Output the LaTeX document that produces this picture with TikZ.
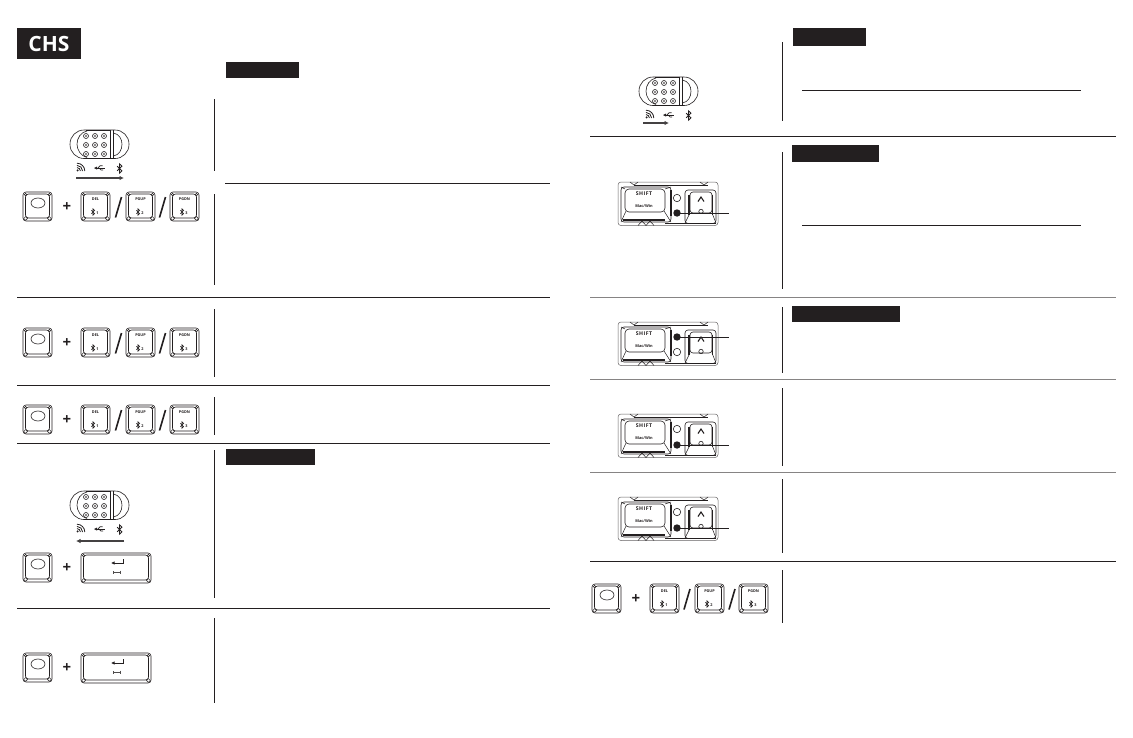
\documentclass[tikz,border=0pt]{standalone}
\usepackage{fontspec}
\setmainfont{Open Sans}
\usetikzlibrary{arrows.meta}
\definecolor{ink}{HTML}{231F20}
\tikzset{
  rule/.style={ink,line width=1pt},
  softrule/.style={ink!55,line width=1pt},
  bar/.style={fill=ink,draw=none},
  keyline/.style={ink,line width=.6pt},
  keytxt/.style={ink,font=\bfseries\fontsize{3.8}{5}\selectfont,inner sep=0},
  slashmark/.style={ink,line width=1.6pt},
  plusmark/.style={ink,font=\bfseries\fontsize{15}{15}\selectfont,inner sep=0},
  sweep/.style={ink!85,line width=1.3pt,-{Latex[length=4.5pt,width=4.5pt]}},
  leader/.style={ink,line width=1pt}
}
% key outline: #1 x, #2 y top-left, #3 width, #4 height
\newcommand{\keyshell}[4]{%
  \begin{scope}[shift={(#1,#2)}]
    \draw[keyline,rounded corners=3pt] (0,0) rectangle (#3,#4);
    \draw[keyline,rounded corners=3pt] (2.5,2) rectangle ({#3-2.5},{#4-3});
    \foreach \kx/\ky/\dx/\dy/\kr in {0/0/1/1/1.3,#3/0/-1/1/1.3,0/#4/1/-1/1.9,#3/#4/-1/-1/1.9}{
      \draw[ink,line width=.5pt,fill=white] ({\kx+2.6*\dx},{\ky+2.6*\dy}) circle (\kr);
    }
  \end{scope}}
\newcommand{\fnkey}[2]{\keyshell{#1}{#2}{29}{29}%
  \draw[keyline] ({#1+15},{#2+11}) ellipse (7 and 5);}
% bluetooth rune: #1 line width, #2 x, #3 y, #4 half width, #5 half height
\newcommand{\btrune}[5]{%
  \draw[ink,line width=#1] ({#2-#4},{#3-#5/2}) -- ({#2+#4},{#3+#5/2}) -- (#2,{#3+#5}) -- (#2,{#3-#5}) -- ({#2+#4},{#3-#5/2}) -- ({#2-#4},{#3+#5/2});}
\newcommand{\numkey}[4]{\keyshell{#1}{#2}{29}{29}%
  \node[keytxt] at ({#1+14.5},{#2+7}) {#3};
  \btrune{.55pt}{#1+12}{#2+20}{1.7}{3.2}
  \node[keytxt,font=\bfseries\fontsize{3.8}{4}\selectfont] at ({#1+16.5},{#2+21}) {#4};}
\newcommand{\entkey}[2]{\keyshell{#1}{#2}{70}{30}%
  \draw[ink,line width=.8pt,-{Latex[length=3.5pt,width=3.5pt]}] ({#1+42},{#2+6}) -- ({#1+42},{#2+10}) -- ({#1+30},{#2+10});
  \draw[ink!80,line width=.6pt,{Bar[width=3pt]}-{Bar[width=3pt]}] ({#1+32},{#2+19}) -- ({#1+40},{#2+19});}
\newcommand{\combo}[1]{%
  \fnkey{23}{#1}
  \node[plusmark] at (67,{#1+15}) {+};
  \numkey{81}{#1}{DEL}{1}
  \draw[slashmark] (115.5,{#1+25.5}) -- (121.5,{#1+5});
  \numkey{126}{#1}{PGUP}{2}
  \draw[slashmark] (159.5,{#1+25.5}) -- (165.5,{#1+5});
  \numkey{170}{#1}{PGDN}{3}}
% quarter arc helper for the wireless mark
\newcommand{\wave}[1]{(7,{41-#1}) .. controls ({7+.55*#1},{41-#1}) and ({7+#1},{41-.55*#1}) .. ({7+#1},41)}
\newcommand{\switchpic}[2]{%
  \begin{scope}[shift={(#1,#2)}]
    \draw[keyline,rounded corners=14pt] (0,0) rectangle (59,28.5);
    \draw[ink,line width=1pt] (16,.2) -- (40,.2) (16,28.3) -- (40,28.3);
    \draw[ink,line width=1pt] (40,0) -- (40,28.5);
    \draw[keyline] (43.5,0) -- (43.5,28.5);
    \draw[keyline] (43.5,3) .. controls (49,4) and (52,9) .. (52,14.2) .. controls (52,20) and (49,25) .. (43.5,26);
    \draw[keyline] (17,1) .. controls (11,2) and (7,8) .. (7,14.2) .. controls (7,20) and (11,26) .. (17,27.5);
    \foreach \gx in {16,25,34}\foreach \gy in {6,15,24}{
      \draw[ink,line width=.6pt] (\gx,\gy) circle (2.5);
      \fill[ink!70] (\gx,\gy) circle (1.1);
    }
    \draw[ink,line width=.8pt] \wave{3.4};
    \draw[ink,line width=.8pt] \wave{5.6};
    \draw[ink,line width=.8pt] \wave{7.8};
    \fill[ink] (7.6,40.4) circle (1.1);
    \draw[ink,line width=.8pt] (26,38) -- (35,38);
    \draw[ink,line width=.7pt] (28,38) -- (30,35.8) -- (32.5,35.8);
    \draw[ink,line width=.7pt] (29,38) -- (31,40) -- (33,40);
    \fill[ink] (24,38) -- (27,36.5) -- (27,39.5) -- cycle;
    \btrune{.9pt}{49.5}{38.5}{2.4}{4.6}
  \end{scope}}
% LED panel: #1 y top, #2 y lit LED, #3 y open LED
\newcommand{\panelpic}[3]{%
  \begin{scope}[shift={(618,#1)}]
    \draw[ink!70,line width=.5pt,rounded corners=3pt] (0,0) rectangle (100,43.5);
    \draw[ink,line width=.8pt] (16,3) -- (90,3);
    \draw[ink,line width=.5pt] (12,0) -- (16,3) -- (20,0) (82,0) -- (86,3) -- (90,0);
    \draw[ink,line width=1.6pt] (5,38) -- (47,38);
    \draw[ink,line width=.8pt] (47,41.5) -- (98,41.5);
    \draw[ink,line width=.5pt] (20,43.5) -- (24,39) -- (28,43.5) -- (32,39) -- (36,43.5);
    % shift key
    \draw[ink,line width=.6pt,rounded corners=3pt] (3,5) rectangle (53,40);
    \draw[ink,line width=.6pt,rounded corners=4pt] (7,7) rectangle (47,30);
    \foreach \cx/\cy/\ex/\ey in {3/5/7/7,53/5/47/7,3/40/8/29,53/40/46/29}{\draw[ink,line width=.5pt] (\cx,\cy) -- (\ex,\ey);}
    \draw[ink,line width=1.6pt] (53,8) -- (53,34);
    \node[ink,inner sep=0,font=\bfseries\fontsize{5.2}{6}\selectfont\addfontfeature{LetterSpace=8}] at (26,12) {SHIFT};
    \node[ink,inner sep=0,font=\bfseries\fontsize{3.9}{5}\selectfont] at (26,24) {Mac/Win};
    % up key
    \draw[ink,line width=.6pt,rounded corners=3pt] (67,8) rectangle (98,41.5);
    \draw[ink,line width=.6pt,rounded corners=3pt] (72,10) rectangle (94,31);
    \draw[ink,line width=1.3pt] (71,13) -- (71,33);
    \draw[ink,line width=1.3pt] (94.5,13) -- (94.5,33);
    \draw[ink,line width=.5pt] (67,41) -- (72,31) (98,41) -- (94,31);
    \draw[ink,line width=1.1pt] (80,19.5) -- (83,15) -- (86,19.5);
    \draw[ink,line width=.6pt] (83,29.5) circle (2.2);
    \fill[white] (79,31.5) rectangle (87,33);
  \end{scope}
  \draw[keyline,fill=white] (677,#3) circle (3.7);
  \coordinate (ledtail) at (728.5,#2);
  \node[fill=ink,inner sep=0,minimum size=7.4pt,circle] (leddot) at (677,#2) {};
  \draw[leader] (leddot.center) -- (ledtail);}
\begin{document}
\begin{tikzpicture}[x=1pt,y=-1pt]
\useasboundingbox (0,0) rectangle (1133,737);
\fill[white] (0,0) rectangle (1133,737);
% headings
\fill[bar] (17,28) rectangle (81,59);
\node[white,font=\bfseries\fontsize{21}{21}\selectfont,inner sep=0] (chs) at (49,44) {CHS};
\fill[bar] (226,62) rectangle (299,78);
\fill[bar] (226,449) rectangle (315,465);
\fill[bar] (793,28) rectangle (866,46);
\fill[bar] (792,145) rectangle (879,162);
\fill[bar] (792,306) rectangle (900,322);
% left column rules
\foreach \ya/\yb in {99/171,194/285,309/377,397/435,450/598,618/703}{\draw[rule] (214,\ya) -- (214,\yb);}
\draw[rule] (225,183) -- (550,183);
\foreach \yy in {297,385,443,608}{\draw[rule] (17,\yy) -- (550,\yy);}
% right column rules
\foreach \ya/\yb in {42/121,152/289,307/373,388/466,479/553,570/623}{\draw[rule] (782,\ya) -- (782,\yb);}
\draw[rule] (802,90) -- (1081,90);
\draw[rule] (802,225) -- (1081,225);
\draw[rule] (590,136) -- (1116,136);
\draw[rule] (590,561) -- (1116,561);
\foreach \yy in {297,379,472}{\draw[softrule] (590,\yy) -- (1116,\yy);}
% left drawings
\switchpic{70}{130}
\coordinate (a1) at (76,178); \coordinate (a2) at (124,178);
\draw[sweep] (a1) -- (a2);
\combo{192}
\combo{328}
\combo{405}
\switchpic{70}{491}
\coordinate (b1) at (124,541); \coordinate (b2) at (76,541);
\draw[sweep] (b1) -- (b2);
\fnkey{23}{553}
\node[plusmark] at (67,568) {+};
\entkey{81}{553}
\fnkey{23}{653}
\node[plusmark] at (67,668) {+};
\entkey{81}{653}
% right drawings
\switchpic{639}{77}
\coordinate (c1) at (643,123); \coordinate (c2) at (669,123);
\draw[sweep] (c1) -- (c2);
\panelpic{182}{213}{198}
\panelpic{322}{337}{352}
\panelpic{414}{445}{429}
\panelpic{497}{528}{512}
\fnkey{592}{584}
\node[plusmark] at (636,599) {+};
\numkey{650}{584}{DEL}{1}
\draw[slashmark] (684,609.5) -- (690,589);
\numkey{695}{584}{PGUP}{2}
\draw[slashmark] (729,609.5) -- (735,589);
\numkey{739}{584}{PGDN}{3}
\end{tikzpicture}
\end{document}
